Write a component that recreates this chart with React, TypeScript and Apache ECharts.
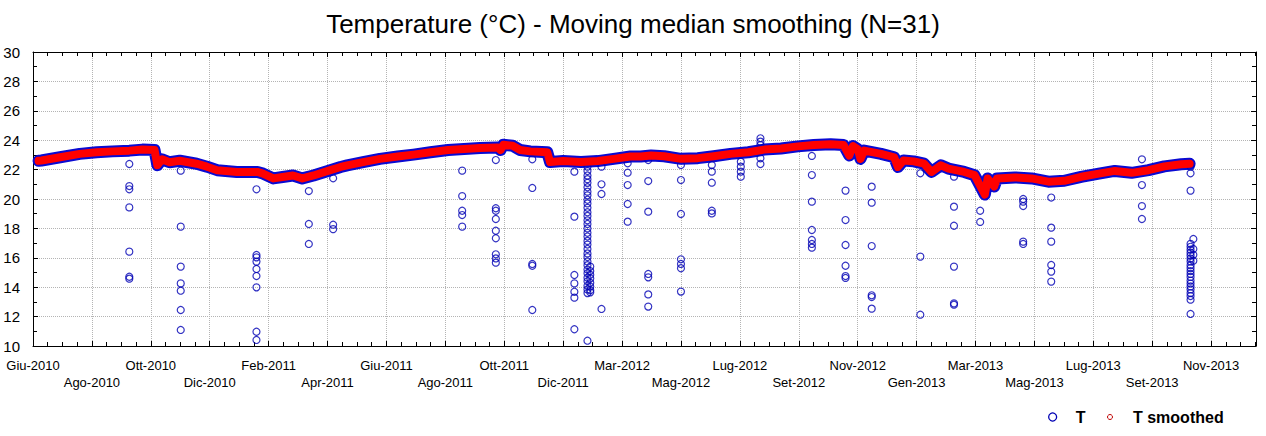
import React, { useEffect, useRef } from 'react';
import * as echarts from 'echarts';

const DAY = 86400000;
const ts = (s: string) => Date.parse(s + 'T00:00:00Z');

// x-axis: ticks every 63 days starting 10 Jun 2010
const axisStart = '2010-06-10';
const tickStepDays = 63;
const axisSpanDays = 1308;
const monthNames = ['Gen', 'Feb', 'Mar', 'Apr', 'Mag', 'Giu', 'Lug', 'Ago', 'Set', 'Ott', 'Nov', 'Dic'];

// y-axis
const yMin = 10;
const yMax = 30;
const yStep = 2;

// T (band) / T smoothed (moving median) curve
const curveDates = [
  '2010-06-16', '2010-06-19', '2010-07-09', '2010-07-30', '2010-08-17', '2010-09-03', '2010-09-21',
  '2010-10-05', '2010-10-18', '2010-10-21', '2010-10-26', '2010-11-03', '2010-11-14', '2010-12-02',
  '2010-12-13', '2010-12-24', '2011-01-14', '2011-02-05', '2011-02-11', '2011-02-22', '2011-03-04',
  '2011-03-15', '2011-03-25', '2011-04-06', '2011-04-24', '2011-05-05', '2011-05-12', '2011-05-29',
  '2011-06-16', '2011-07-05', '2011-07-22', '2011-08-09', '2011-08-28', '2011-09-14', '2011-10-01',
  '2011-10-20', '2011-10-23', '2011-10-26', '2011-11-05', '2011-11-13', '2011-11-24', '2011-12-12',
  '2011-12-15', '2011-12-29', '2012-01-17', '2012-02-04', '2012-02-21', '2012-03-10', '2012-03-21',
  '2012-04-01', '2012-04-15', '2012-05-03', '2012-05-21', '2012-06-07', '2012-06-25', '2012-07-14',
  '2012-07-31', '2012-08-18', '2012-09-05', '2012-09-22', '2012-10-10', '2012-10-24', '2012-10-30',
  '2012-11-03', '2012-11-08', '2012-11-11', '2012-11-15', '2012-12-03', '2012-12-17', '2012-12-21',
  '2012-12-27', '2013-01-07', '2013-01-18', '2013-01-26', '2013-02-05', '2013-02-13', '2013-03-02',
  '2013-03-13', '2013-03-24', '2013-03-27', '2013-04-03', '2013-04-06', '2013-04-25', '2013-05-13',
  '2013-05-31', '2013-06-17', '2013-07-05', '2013-07-24', '2013-08-10', '2013-08-28', '2013-09-15',
  '2013-10-02', '2013-10-20', '2013-10-29',
];
const curveValues = [
  22.6, 22.62, 22.84, 23.07, 23.18, 23.24, 23.29,
  23.36, 23.33, 22.3, 22.7, 22.5, 22.6, 22.4,
  22.2, 21.96, 21.84, 21.84, 21.73, 21.4, 21.5,
  21.6, 21.4, 21.6, 21.96, 22.18, 22.29, 22.51,
  22.73, 22.89, 23.02, 23.18, 23.33, 23.4, 23.47,
  23.51, 23.33, 23.69, 23.62, 23.33, 23.24, 23.18,
  22.51, 22.58, 22.51, 22.58, 22.73, 22.89, 22.89,
  22.96, 22.91, 22.73, 22.78, 22.91, 23.07, 23.18,
  23.36, 23.44, 23.58, 23.67, 23.73, 23.67, 22.96,
  23.6, 23.4, 22.73, 23.29, 23.07, 22.84, 22.18,
  22.62, 22.56, 22.4, 21.84, 22.29, 22.07, 21.84,
  21.62, 20.3, 21.4, 20.85, 21.4, 21.47, 21.4,
  21.18, 21.24, 21.51, 21.73, 21.91, 21.78, 21.96,
  22.22, 22.36, 22.4,
];

// T outliers (raw readings away from the band)
const outlierDates = [
  '2010-09-21', '2010-11-15', '2011-02-04', '2011-04-01', '2011-04-27', '2011-09-12', '2011-10-18',
  '2011-11-26', '2012-01-10', '2012-01-24', '2012-01-27', '2012-02-08', '2012-03-07', '2012-03-29',
  '2012-05-03', '2012-06-05', '2012-07-06', '2012-07-27', '2012-09-20', '2012-10-26', '2012-11-23',
  '2013-01-14', '2013-02-19', '2013-03-19', '2013-05-04', '2013-06-03', '2013-09-08', '2013-10-30',
  '2013-11-02',
];
const outlierValues: number[][] = [
  [22.38, 20.88, 20.66, 19.43, 16.42, 14.71, 14.58],
  [21.93, 18.12, 15.4, 14.26, 13.76, 12.45, 11.09],
  [20.66, 16.19, 16.03, 15.74, 15.24, 14.76, 13.99, 10.97, 10.41],
  [20.54, 18.3, 16.94],
  [21.41, 18.25, 17.95],
  [21.93, 20.2, 19.2, 18.91, 18.12],
  [22.65, 19.37, 19.2, 18.64, 17.84, 17.33, 16.24, 15.96, 15.67],
  [22.7, 20.75, 15.58, 15.46, 12.45],
  [21.86, 18.8, 14.83, 14.26, 13.69, 13.29, 11.14],
  [22.2, 21.9, 21.6, 21.35, 21.1, 20.8, 20.5, 20.25, 19.95, 19.7, 19.4, 19.1, 18.85, 18.55, 18.3, 18.0,
    17.7, 17.45, 17.15, 16.9, 16.6, 16.3, 16.05, 15.75, 15.5, 15.2, 14.95, 14.65, 14.4, 14.1, 13.85, 13.6, 10.36],
  [15.4, 15.1, 14.85, 14.6, 14.3, 14.05, 13.8, 13.65],
  [22.2, 21.0, 20.34, 12.52],
  [22.43, 21.79, 20.95, 19.66, 18.46],
  [22.65, 21.22, 19.14, 14.9, 14.67, 13.51, 12.68],
  [22.31, 21.29, 18.98, 15.9, 15.58, 15.29, 13.7],
  [22.31, 21.86, 21.11, 19.2, 19.02],
  [22.54, 22.2, 21.86, 21.52],
  [24.13, 23.9, 23.67, 22.77, 22.38],
  [22.93, 21.63, 19.82, 17.89, 17.21, 16.94, 16.69],
  [20.57, 18.57, 16.87, 15.46, 14.76, 14.63],
  [20.84, 19.75, 16.8, 13.45, 13.33, 12.54],
  [21.75, 16.08, 12.13],
  [21.52, 19.48, 18.18, 15.4, 12.9, 12.81],
  [19.2, 18.44],
  [20.0, 19.82, 19.52, 17.1, 16.94],
  [20.1, 18.05, 17.1, 15.51, 15.06, 14.38],
  [22.7, 20.95, 19.52, 18.64],
  [22.2, 21.75, 20.57, 16.95, 16.75, 16.55, 16.35, 16.15, 15.95, 15.75, 15.5, 15.3, 15.1, 14.9, 14.7,
    14.45, 14.25, 14.05, 13.85, 13.6, 13.4, 13.15, 12.18],
  [17.28, 16.6, 16.2, 15.8],
];

const FONT = '"Liberation Sans", Arial, sans-serif';
const BLUE_BAND = '#0a0ad2';
const BLUE_PT = '#0000b4';
const RED = '#ff0000';

export default function App() {
  const ref = useRef<HTMLDivElement>(null);
  useEffect(() => {
    if (!ref.current) return;
    const chart = echarts.init(ref.current, undefined, { renderer: 'svg' });
    const xMin = ts(axisStart);
    const xStep = tickStepDays * DAY;
    const xMax = xMin + axisSpanDays * DAY;

    const curve = curveDates.map((d, i) => [ts(d), curveValues[i]]);
    const outliers: number[][] = [];
    outlierDates.forEach((d, i) => outlierValues[i].forEach((v) => outliers.push([ts(d), v])));

    const xLabel = (v: number) => {
      const k = Math.round((v - xMin) / xStep);
      const dt = new Date(v);
      const s = monthNames[dt.getUTCMonth()] + '-' + dt.getUTCFullYear();
      return k % 2 === 1 ? '\n' + s : s;
    };

    const baseX = {
      type: 'value' as const,
      min: xMin,
      max: xMax,
      interval: xStep,
      axisLine: { show: true, onZero: false, lineStyle: { color: '#000', width: 1 } },
      axisTick: { show: true, inside: true, length: 5, lineStyle: { color: '#000' } },
      minorTick: { show: true, splitNumber: 4, length: 4, lineStyle: { color: '#000' } },
    };
    const baseY = {
      type: 'value' as const,
      min: yMin,
      max: yMax,
      interval: yStep,
      axisLine: { show: true, onZero: false, lineStyle: { color: '#000', width: 1 } },
      axisTick: { show: true, inside: true, length: 5, lineStyle: { color: '#000' } },
      minorTick: { show: true, splitNumber: 2, length: 4, lineStyle: { color: '#000' } },
    };

    const legendText = { fontFamily: FONT, fontSize: 16, fontWeight: 'bold' as const, color: '#000' };

    chart.setOption({
      animation: false,
      backgroundColor: '#fff',
      title: {
        text: 'Temperature (°C) - Moving median smoothing (N=31)',
        left: 'center',
        top: 6,
        textStyle: { fontFamily: FONT, fontSize: 26, fontWeight: 'normal', color: '#000' },
      },
      legend: [
        {
          data: [{ name: 'T', icon: 'circle', itemStyle: { color: 'transparent', borderColor: BLUE_PT, borderWidth: 1.3 } }],
          left: 1048,
          top: 409,
          padding: 0,
          itemWidth: 36,
          itemHeight: 8,
          selectedMode: false,
          textStyle: legendText,
        },
        {
          data: [{ name: 'T smoothed', icon: 'circle', itemStyle: { color: 'transparent', borderColor: '#c00000', borderWidth: 1 } }],
          left: 1107,
          top: 409,
          padding: 0,
          itemWidth: 36,
          itemHeight: 5,
          selectedMode: false,
          textStyle: legendText,
        },
      ],
      grid: { left: 33, top: 52, width: 1223, height: 294, containLabel: false, outerBoundsMode: 'none' },
      xAxis: [
        {
          ...baseX,
          position: 'bottom',
          axisLabel: {
            show: true,
            formatter: xLabel,
            fontFamily: FONT,
            fontSize: 13,
            lineHeight: 17,
            color: '#000',
            margin: 11,
            showMaxLabel: false,
            showMinLabel: true,
            hideOverlap: false,
          },
          splitLine: { show: true, lineStyle: { color: '#b4b4b4', type: 'dotted', width: 1 } },
        },
        {
          ...baseX,
          position: 'top',
          axisLabel: { show: false },
          splitLine: { show: false },
        },
      ],
      yAxis: [
        {
          ...baseY,
          position: 'left',
          axisLabel: { show: true, fontFamily: FONT, fontSize: 15, color: '#000', margin: 13 },
          splitLine: { show: true, lineStyle: { color: '#b4b4b4', type: 'dotted', width: 1 } },
        },
        {
          ...baseY,
          position: 'right',
          axisLabel: { show: false },
          splitLine: { show: false },
        },
      ],
      series: [
        {
          name: 'T',
          type: 'line',
          xAxisIndex: 0,
          yAxisIndex: 0,
          data: curve,
          symbol: 'none',
          lineStyle: { color: BLUE_BAND, width: 12, join: 'round', cap: 'round' },
          itemStyle: { color: BLUE_PT },
          z: 2,
        },
        {
          name: 'T',
          type: 'scatter',
          xAxisIndex: 0,
          yAxisIndex: 0,
          data: outliers,
          symbol: 'circle',
          symbolSize: 7,
          itemStyle: { color: 'transparent', borderColor: BLUE_PT, borderWidth: 1.2 },
          z: 3,
        },
        {
          name: 'T smoothed',
          type: 'line',
          xAxisIndex: 0,
          yAxisIndex: 0,
          data: curve,
          symbol: 'none',
          lineStyle: { color: RED, width: 8, join: 'round', cap: 'round' },
          itemStyle: { color: RED },
          z: 4,
        },
      ],
    });
    return () => chart.dispose();
  }, []);
  return <div ref={ref} style={{ position: 'absolute', left: 0, top: 0, width: 1266, height: 436 }} />;
}
